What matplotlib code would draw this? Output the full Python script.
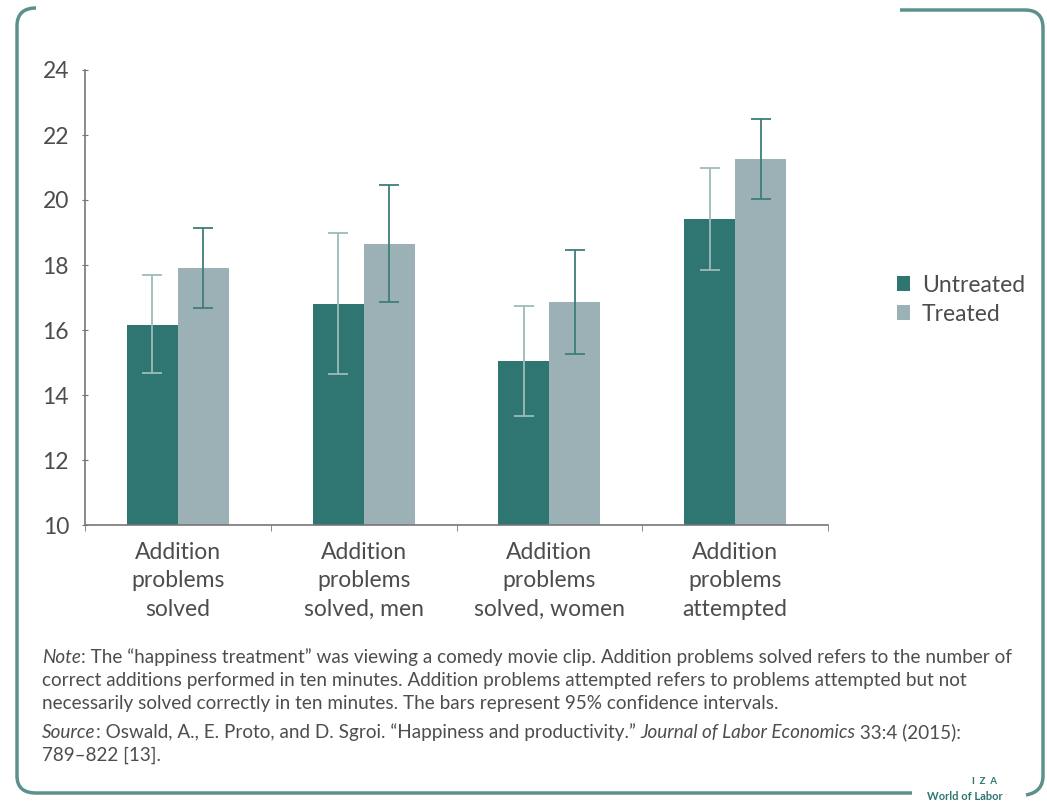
import numpy as np
import matplotlib.pyplot as plt
from matplotlib.path import Path
from matplotlib.patches import PathPatch

# data
categories = ['Addition\nproblems\nsolved', 'Addition\nproblems\nsolved, men',
              'Addition\nproblems\nsolved, women', 'Addition\nproblems\nattempted']
untreated = [16.15, 16.8, 15.05, 19.42]
untreated_lo = [14.68, 14.65, 13.35, 17.85]
untreated_hi = [17.7, 19.0, 16.75, 21.0]
treated = [17.9, 18.65, 16.85, 21.25]
treated_lo = [16.68, 16.86, 15.26, 20.03]
treated_hi = [19.14, 20.45, 18.45, 22.5]

teal = '#2f7571'
grey = '#9cb1b6'
frame_col = '#5b918d'
text_col = '#4d4d4d'

plt.rcParams['font.family'] = ['Lato', 'DejaVu Sans']

W, H = 1047, 801
fig = plt.figure(figsize=(W / 100, H / 100), dpi=100)
ax = fig.add_axes([85 / W, 1 - 525 / H, (828 - 85) / W, (525 - 70) / H])

x = np.arange(len(categories))
width = 0.275
ax.bar(x - width / 2, np.array(untreated) - 10, width, bottom=10, color=teal, label='Untreated', zorder=2)
ax.bar(x + width / 2, np.array(treated) - 10, width, bottom=10, color=grey, label='Treated', zorder=2)

u_err = [np.array(untreated) - np.array(untreated_lo), np.array(untreated_hi) - np.array(untreated)]
t_err = [np.array(treated) - np.array(treated_lo), np.array(treated_hi) - np.array(treated)]
ax.errorbar(x - width / 2, untreated, yerr=u_err, fmt='none', ecolor='#9dbcba',
            elinewidth=1.3, capsize=7, capthick=1.3, zorder=3)
ax.errorbar(x + width / 2, treated, yerr=t_err, fmt='none', ecolor='#3f7d79',
            elinewidth=1.3, capsize=7, capthick=1.3, zorder=3)

ax.set_ylim(10, 24)
ax.set_xlim(-0.5, len(categories) - 0.5)
ax.set_yticks(range(10, 25, 2))
ax.set_xticks(x)
ax.set_xticklabels(categories, fontsize=16.5, color=text_col, linespacing=1.45)
ax.set_xticks(np.arange(-0.5, len(categories)), minor=True)
ax.tick_params(axis='x', which='major', length=0, pad=12)
ax.tick_params(axis='x', which='minor', length=4, direction='out', color='#777777')
ax.tick_params(axis='y', length=5, direction='inout', color='#777777', labelsize=16.5,
               labelcolor=text_col, pad=9)
for s in ['top', 'right']:
    ax.spines[s].set_visible(False)
for s in ['left', 'bottom']:
    ax.spines[s].set_color('#777777')
    ax.spines[s].set_linewidth(1.2)

fig.legend(loc='upper left', bbox_to_anchor=(876 / W, 1 - 254 / H), frameon=False,
           fontsize=16.5, handlelength=0.6, handleheight=0.6, handletextpad=0.5,
           labelspacing=0.35, labelcolor=text_col)

# notes (baseline-aligned so italic and upright pieces line up)
note_kw = dict(fontsize=13.6, color=text_col, va='baseline', ha='left')
renderer = fig.canvas.get_renderer()

note_lines = [
    (663, [('Note', True), (': The \u201chappiness treatment\u201d was viewing a comedy movie clip. Addition problems solved refers to the number of', False)]),
    (686, [('correct additions performed in ten minutes. Addition problems attempted refers to problems attempted but not', False)]),
    (709, [('necessarily solved correctly in ten minutes. The bars represent 95% confidence intervals.', False)]),
    (738, [('Source', True), (': Oswald, A., E. Proto, and D. Sgroi. \u201cHappiness and productivity.\u201d ', False),
           ('Journal of Labor Economics', True), (' 33:4 (2015):', False)]),
    (761, [('789\u2013822 [13].', False)]),
]
for y, parts in note_lines:
    x0 = 42 / W
    for s, it in parts:
        t = fig.text(x0, 1 - y / H, s, style='italic' if it else 'normal', **note_kw)
        x0 = t.get_window_extent(renderer).x1 / W

# IZA logo text
fig.text(985 / W, 1 - 781 / H, 'I  Z  A', fontsize=7, color=teal, weight='bold', ha='center', va='center')
fig.text(965 / W, 1 - 797 / H, 'World of Labor', fontsize=8, color=teal, weight='bold', ha='center', va='center')

# rounded frame (figure pixel coords)
def px(pts):
    return [(a / W, 1 - b / H) for a, b in pts]

left = Path(px([(36, 8), (17, 8), (17, 26), (17, 776), (17, 793), (36, 793), (912, 793)]),
            [Path.MOVETO, Path.CURVE3, Path.CURVE3, Path.LINETO, Path.CURVE3, Path.CURVE3, Path.LINETO])
right = Path(px([(900, 10), (1025, 10), (1043, 10), (1043, 28), (1043, 776), (1043, 792), (1026, 795)]),
             [Path.MOVETO, Path.LINETO, Path.CURVE3, Path.CURVE3, Path.LINETO, Path.CURVE3, Path.CURVE3])
for p in (left, right):
    fig.patches.append(PathPatch(p, transform=fig.transFigure, fill=False,
                                 edgecolor=frame_col, linewidth=2.5))

fig.savefig('out.png', dpi=100)
